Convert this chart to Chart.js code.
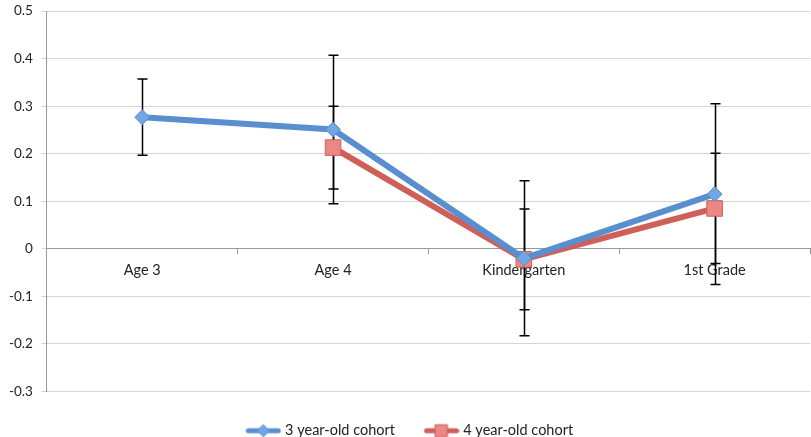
<!DOCTYPE html>
<html>
<head>
<meta charset="utf-8">
<script src="https://cdn.jsdelivr.net/npm/chart.js@4.4.1/dist/chart.umd.min.js"></script>
<style>
  html, body { margin: 0; padding: 0; background: #fff; overflow: hidden; }
  /* canvas a bit larger than the window so the plot fills it like the original */
  #wrap { width: 822px; height: 454px; margin-top: -6px; }
</style>
</head>
<body>
<div id="wrap"><canvas id="chart"></canvas></div>
<script>
// values
const categories = ['Age 3', 'Age 4', 'Kindergarten', '1st Grade'];
const cohort3 = [0.277, 0.251, -0.02, 0.115];
const cohort4 = [null, 0.213, -0.022, 0.085];
const cohort3Err = [0.08, 0.156, 0.163, 0.19];
const cohort4Err = [null, 0.087, 0.106, 0.116];
const yMin = -0.3, yMax = 0.5, yStep = 0.1;

const BLUE = '#5a8fcf', BLUE_FILL = '#72a5e2';
const RED = '#cf5f59', RED_FILL = '#ec8884';
const FONT = { family: 'Lato, "Open Sans", sans-serif', size: 14.5 };
const YFONT = { family: 'Lato, "Open Sans", sans-serif', size: 13.5 };

// small canvas for the legend: a line with the marker in the middle
function legendIcon(color, fill, style) {
    const c = document.createElement('canvas');
    c.width = 36; c.height = 16;
    const g = c.getContext('2d');
    g.strokeStyle = color; g.lineWidth = 5; g.lineCap = 'round';
    g.beginPath(); g.moveTo(3, 8); g.lineTo(33, 8); g.stroke();
    g.fillStyle = fill; g.strokeStyle = color; g.lineWidth = 1;
    g.beginPath();
    if (style === 'diamond') {
        g.moveTo(18, 2); g.lineTo(24, 8); g.lineTo(18, 14); g.lineTo(12, 8);
    } else {
        g.rect(12, 2, 12, 12);
    }
    g.closePath(); g.fill(); g.stroke();
    return c;
}

const errorBars = {
    id: 'errorBars',
    beforeDatasetsDraw(chart) {
        const { ctx, scales: { x, y } } = chart;
        ctx.save();
        ctx.strokeStyle = '#000';
        ctx.lineWidth = 1.5;
        chart.data.datasets.forEach(ds => {
            ds.errors.forEach((e, j) => {
                const v = ds.data[j];
                if (e == null || v == null) return;
                const px = Math.round(x.getPixelForValue(j)) + 0.5;
                const top = y.getPixelForValue(v + e);
                const bot = y.getPixelForValue(v - e);
                ctx.beginPath();
                ctx.moveTo(px, top); ctx.lineTo(px, bot);
                ctx.moveTo(px - 5, top); ctx.lineTo(px + 5, top);
                ctx.moveTo(px - 5, bot); ctx.lineTo(px + 5, bot);
                ctx.stroke();
            });
        });
        ctx.restore();
    }
};

const icons = [legendIcon(BLUE, BLUE_FILL, 'diamond'), legendIcon(RED, RED_FILL, 'square')];

new Chart(document.getElementById('chart').getContext('2d'), {
    type: 'line',
    plugins: [errorBars],
    data: {
        labels: categories,
        datasets: [{
            label: '3 year-old cohort',
            data: cohort3,
            errors: cohort3Err,
            borderColor: BLUE,
            backgroundColor: BLUE_FILL,
            borderWidth: 6,
            pointStyle: 'rectRot',
            pointRadius: 7.5,
            pointBorderWidth: 1,
            pointBorderColor: BLUE,
            pointBackgroundColor: BLUE_FILL
        }, {
            label: '4 year-old cohort',
            data: cohort4,
            errors: cohort4Err,
            borderColor: RED,
            backgroundColor: RED_FILL,
            borderWidth: 6,
            pointStyle: 'rect',
            pointRadius: 11,
            pointBorderWidth: 1,
            pointBorderColor: RED,
            pointBackgroundColor: RED_FILL
        }]
    },
    options: {
        responsive: true,
        maintainAspectRatio: false,
        animation: false,
        layout: { padding: { top: 0, left: 0, right: 0, bottom: 0 } },
        scales: {
            x: {
                position: { y: 0 },
                offset: true,
                grid: { offset: true, drawOnChartArea: false, drawTicks: true, tickLength: 5, color: '#999' },
                border: { color: '#999' },
                ticks: { padding: 8, font: FONT, color: '#222' }
            },
            y: {
                min: yMin,
                max: yMax,
                ticks: { stepSize: yStep, padding: 9, font: YFONT, color: '#222' },
                grid: { color: '#d4d4d4', tickLength: 5 },
                border: { color: '#999' }
            }
        },
        plugins: {
            legend: {
                position: 'bottom',
                labels: {
                    usePointStyle: true,
                    pointStyleWidth: 29,
                    padding: 32,
                    font: FONT,
                    color: '#222',
                    generateLabels: function (chart) {
                        return chart.data.datasets.map((ds, i) => ({
                            text: ds.label,
                            pointStyle: icons[i],
                            fillStyle: ds.backgroundColor,
                            strokeStyle: ds.borderColor,
                            lineWidth: 0,
                            hidden: false,
                            datasetIndex: i,
                            fontColor: '#222'
                        }));
                    }
                }
            },
            tooltip: { enabled: false }
        }
    }
});
</script>
</body>
</html>
